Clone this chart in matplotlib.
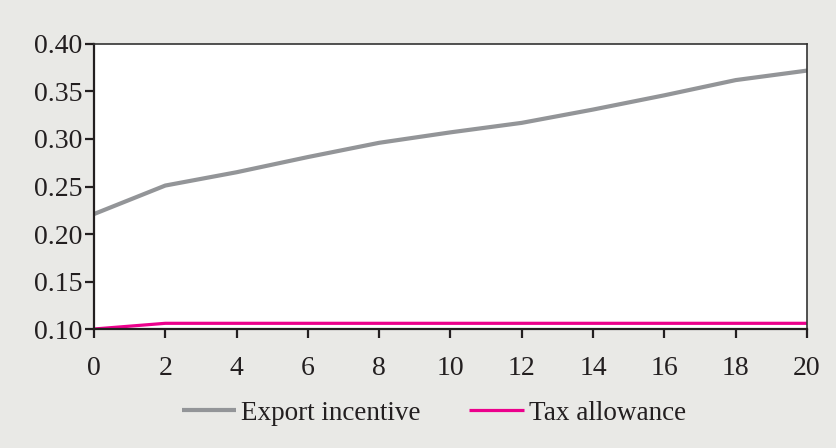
import matplotlib.pyplot as plt

# Dados das séries
anos = [0, 2, 4, 6, 8, 10, 12, 14, 16, 18, 20]
export_incentive = [0.221, 0.251, 0.265, 0.281, 0.296, 0.307, 0.317, 0.331, 0.346, 0.362, 0.372]
tax_allowance = [0.100, 0.106, 0.106, 0.106, 0.106, 0.106, 0.106, 0.106, 0.106, 0.106, 0.106]

plt.rcParams['font.family'] = ['Liberation Serif', 'DejaVu Serif']

fig = plt.figure(figsize=(8.36, 4.48), dpi=100, facecolor='#E9E9E6')
ax = fig.add_axes([0.1124, 0.2656, 0.8529, 0.6362])
ax.set_facecolor('white')

# Curvas
ax.plot(anos, export_incentive, color='#939598', lw=3.0, label='Export incentive', solid_capstyle='butt')
ax.plot(anos, tax_allowance, color='#EC008C', lw=2.3, label='Tax allowance', solid_capstyle='butt')

ax.set_xlim(0, 20)
ax.set_ylim(0.10, 0.40)
ax.set_xticks(anos)
ax.set_yticks([0.10, 0.15, 0.20, 0.25, 0.30, 0.35, 0.40])
ax.set_yticklabels(['%.2f' % v for v in ax.get_yticks()])

for lado in ['left', 'bottom']:
    ax.spines[lado].set_color('#231F20')
    ax.spines[lado].set_linewidth(1.6)
for lado in ['top', 'right']:
    ax.spines[lado].set_color('#333333')
    ax.spines[lado].set_linewidth(1.2)

ax.tick_params(axis='both', direction='out', length=6.5, width=1.6, color='#231F20',
               labelsize=20, labelcolor='#231F20')
ax.tick_params(axis='x', pad=13)
ax.tick_params(axis='y', pad=2)

# Legenda abaixo do gráfico
fig.legend(loc='center', bbox_to_anchor=(0.519, 0.078), ncol=2, frameon=False,
           fontsize=19.5, handlelength=2.0, handletextpad=0.2, columnspacing=1.8,
           labelcolor='#231F20')

fig.savefig('out.png', dpi=100, facecolor=fig.get_facecolor())
